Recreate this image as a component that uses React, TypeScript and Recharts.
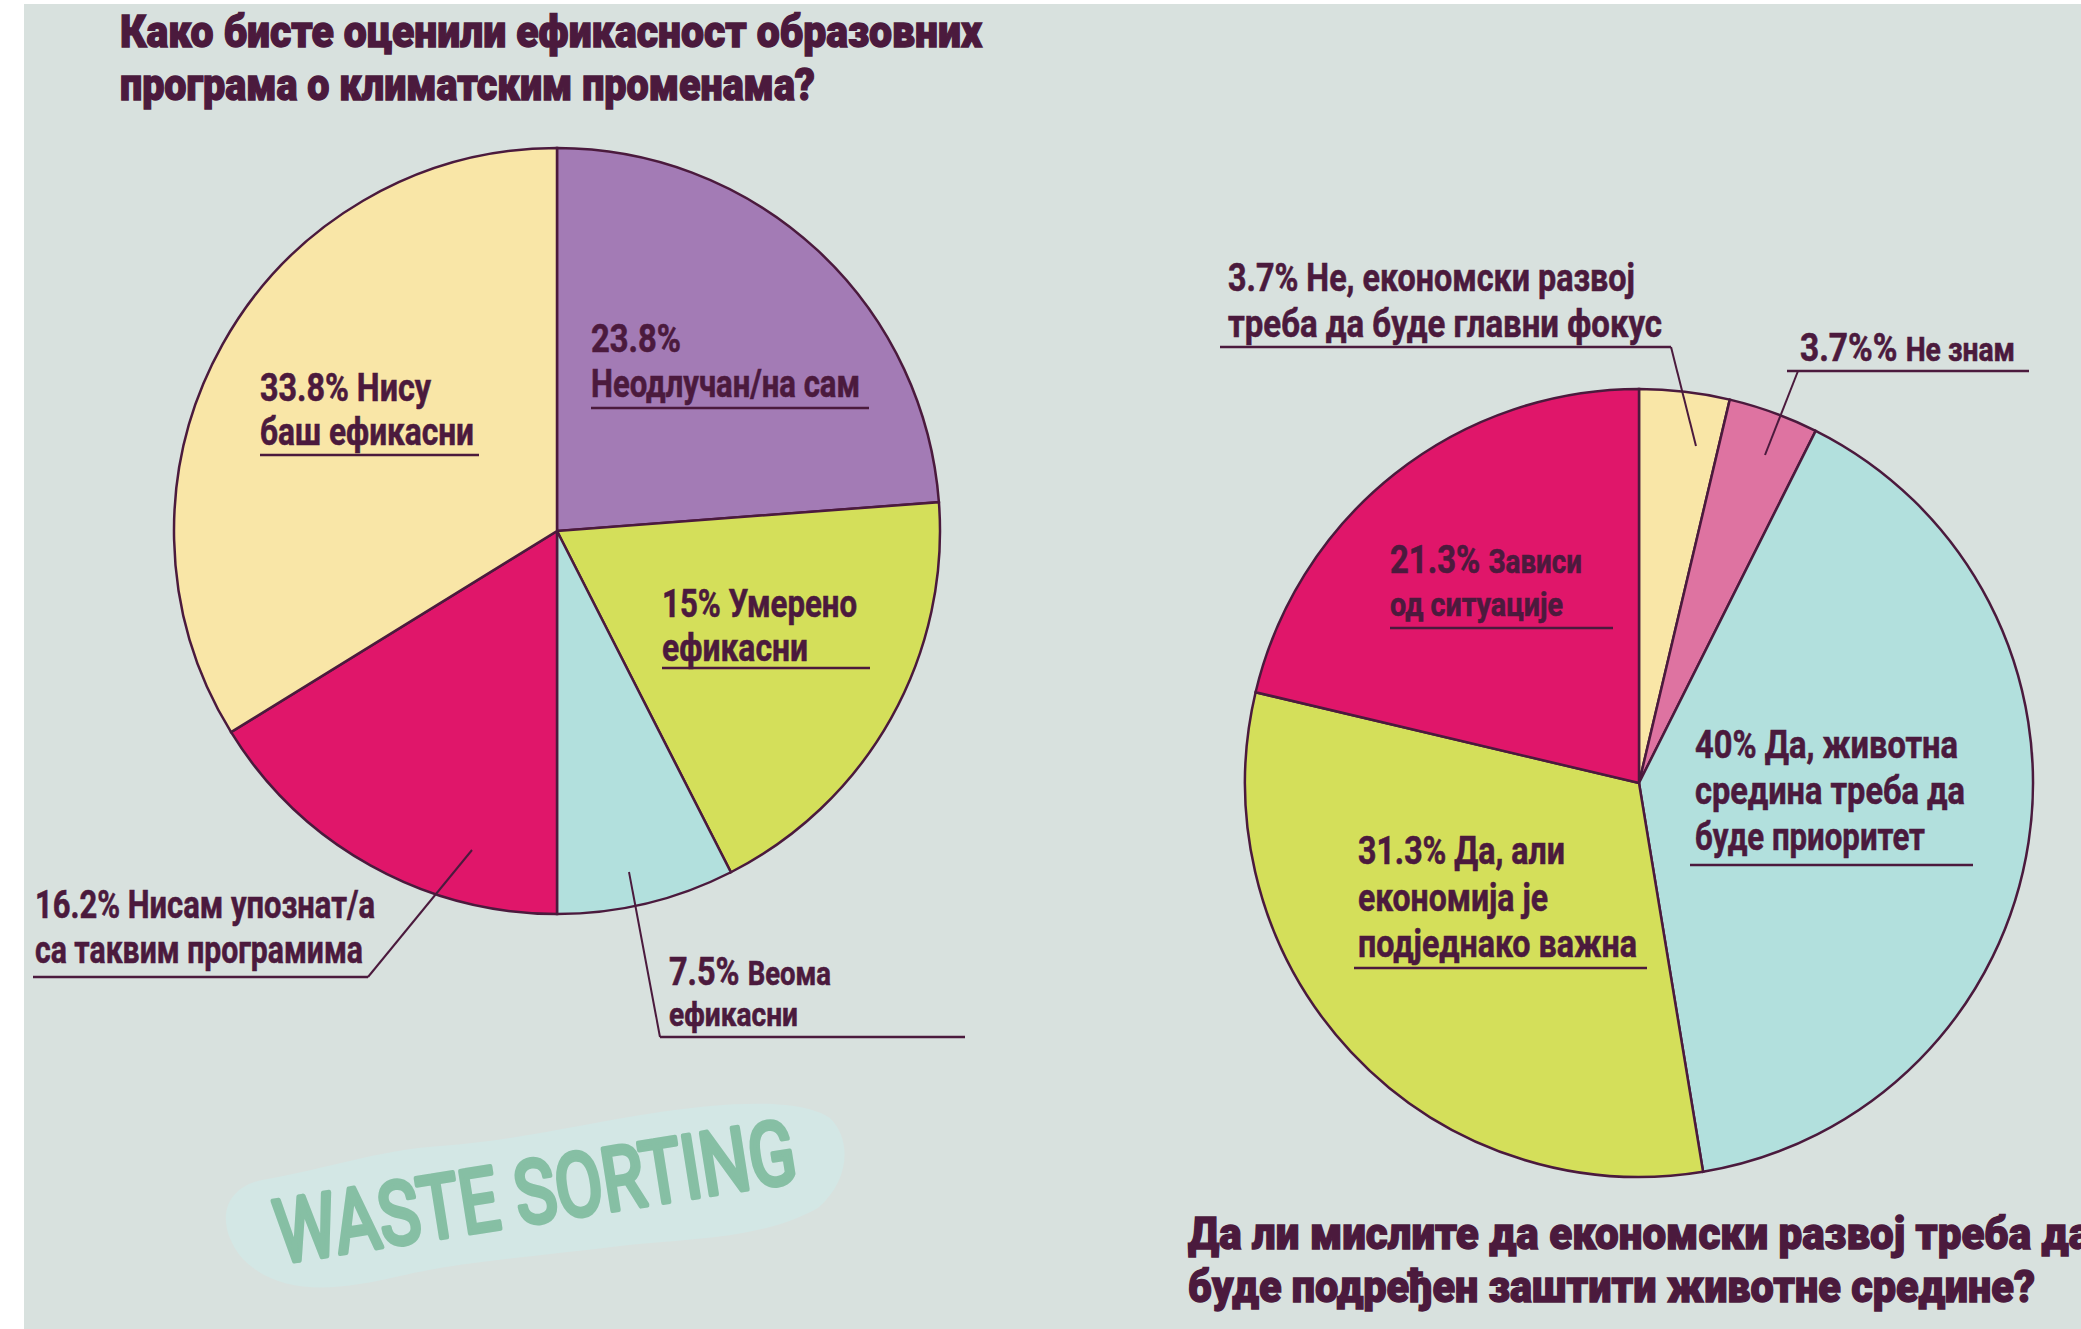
import { PieChart, Pie, Cell } from "recharts";

const INK = "#4b1a3d";
const FONT = "Roboto, 'Noto Sans', sans-serif";

// left pie: "Како бисте оценили ефикасност образовних програма..."
const efficacyNames = [
  "Неодлучан/на сам",
  "Умерено ефикасни",
  "Веома ефикасни",
  "Нисам упознат/а са таквим програмима",
  "Нису баш ефикасни",
];
// slice sizes as drawn (the "15%" slice spans ~18.7% of the circle)
const efficacyValues = [23.8, 18.7, 7.5, 16.2, 33.8];
const efficacyColors = ["#a37bb5", "#d4df5a", "#b2e0dd", "#e0166a", "#f9e6a7"];

// right pie: "Да ли мислите да економски развој..."
const economyNames = [
  "Не, економски развој треба да буде главни фокус",
  "Не знам",
  "Да, животна средина треба да буде приоритет",
  "Да, али економија је подједнако важна",
  "Зависи од ситуације",
];
const economyValues = [3.7, 3.7, 40, 31.3, 21.3];
const economyColors = ["#f9e6a7", "#de73a1", "#b2e0dd", "#d4df5a", "#e0166a"];

const leftTitle = ["Како бисте оценили ефикасност образовних", "програма о климатским променама?"];
const rightTitle = ["Да ли мислите да економски развој треба да", "буде подређен заштити животне средине?"];

const efficacyData = efficacyNames.map((name, i) => ({ name, value: efficacyValues[i] }));
const economyData = economyNames.map((name, i) => ({ name, value: economyValues[i] }));

type Part = { t: string; small?: boolean };
type Line = { parts: Part[]; w: number };

const BIG = 39;
const SMALL = 33;

function Label({
  x,
  y,
  gap = 45,
  lines,
  under,
  leader,
}: {
  x: number;
  y: number;
  gap?: number;
  lines: Line[];
  under: [number, number, number];
  leader?: [number, number, number, number];
}) {
  return (
    <g>
      {lines.map((ln, i) => (
        <text
          key={i}
          x={x}
          y={y + i * gap}
          fontSize={BIG}
          fontWeight={700}
          fill={INK}
          stroke={INK}
          strokeWidth={0.6}
          textLength={ln.w}
          lengthAdjust="spacingAndGlyphs"
        >
          {ln.parts.map((p, j) => (
            <tspan key={j} fontSize={p.small ? SMALL : BIG}>
              {p.t}
            </tspan>
          ))}
        </text>
      ))}
      <line x1={under[0]} x2={under[1]} y1={under[2]} y2={under[2]} stroke={INK} strokeWidth={2.5} />
      {leader && (
        <line x1={leader[0]} y1={leader[1]} x2={leader[2]} y2={leader[3]} stroke={INK} strokeWidth={2} />
      )}
    </g>
  );
}

export default function App() {
  return (
    <div style={{ position: "relative", width: 2081, height: 1329, background: "#fff", overflow: "hidden", fontFamily: FONT }}>
      <style>{"body{margin:0}"}</style>
      <div style={{ position: "absolute", left: 24, top: 4, right: 0, bottom: 0, background: "#d8e1de" }} />

      <svg width={2081} height={1329} style={{ position: "absolute", left: 0, top: 0 }}>
        <path
          d="M242 1258 C215 1225 222 1188 262 1180 C330 1168 380 1150 440 1146 C520 1140 580 1124 660 1112 C730 1102 800 1098 830 1118 C852 1140 850 1180 818 1208 C760 1240 690 1238 620 1246 C540 1256 460 1262 400 1276 C340 1290 280 1298 242 1258 Z"
          fill="#d3e7e5"
        />
        <text
          x={540}
          y={1222}
          transform="rotate(-9 540 1222)"
          textAnchor="middle"
          fontSize={88}
          fontWeight={400}
          fill="#86bfa4"
          stroke="#86bfa4"
          strokeWidth={5}
          strokeLinejoin="round"
          strokeLinecap="round"
          textLength={526}
          lengthAdjust="spacingAndGlyphs"
        >
          WASTE SORTING
        </text>
      </svg>

      <div style={{ position: "absolute", left: 0, top: 0 }}>
        <PieChart width={2081} height={1329} margin={{ top: 0, right: 0, bottom: 0, left: 0 }}>
          <Pie
            data={efficacyData}
            dataKey="value"
            nameKey="name"
            cx={557}
            cy={531}
            outerRadius={383}
            startAngle={90}
            endAngle={-270}
            stroke={INK}
            strokeWidth={2.5}
            isAnimationActive={false}
          >
            {efficacyData.map((_, i) => (
              <Cell key={`e-${i}`} fill={efficacyColors[i]} stroke={INK} strokeWidth={2.5} />
            ))}
          </Pie>
          <Pie
            data={economyData}
            dataKey="value"
            nameKey="name"
            cx={1639}
            cy={783}
            outerRadius={394}
            startAngle={90}
            endAngle={-270}
            stroke={INK}
            strokeWidth={2.5}
            isAnimationActive={false}
          >
            {economyData.map((_, i) => (
              <Cell key={`c-${i}`} fill={economyColors[i]} stroke={INK} strokeWidth={2.5} />
            ))}
          </Pie>
        </PieChart>
      </div>

      <svg width={2081} height={1329} style={{ position: "absolute", left: 0, top: 0, fontFamily: FONT }}>
        {/* titles */}
        <g fill={INK} stroke={INK} strokeWidth={1.4} fontWeight={900} fontSize={45}>
          <text x={120} y={47} textLength={862} lengthAdjust="spacingAndGlyphs">{leftTitle[0]}</text>
          <text x={120} y={100} textLength={695} lengthAdjust="spacingAndGlyphs">{leftTitle[1]}</text>
          <text x={1188} y={1249} textLength={903} lengthAdjust="spacingAndGlyphs">{rightTitle[0]}</text>
          <text x={1188} y={1302} textLength={847} lengthAdjust="spacingAndGlyphs">{rightTitle[1]}</text>
        </g>

        {/* left pie labels */}
        <Label
          x={591}
          y={352}
          lines={[
            { parts: [{ t: `${efficacyValues[0]}%` }], w: 90 },
            { parts: [{ t: efficacyNames[0] }], w: 269 },
          ]}
          under={[591, 869, 408]}
        />
        <Label
          x={260}
          y={401}
          gap={44}
          lines={[
            { parts: [{ t: `${efficacyValues[4]}% Нису` }], w: 171 },
            { parts: [{ t: "баш ефикасни" }], w: 214 },
          ]}
          under={[260, 479, 455]}
        />
        <Label
          x={662}
          y={617}
          gap={44}
          lines={[
            { parts: [{ t: "15% Умерено" }], w: 195 },
            { parts: [{ t: "ефикасни" }], w: 146 },
          ]}
          under={[662, 870, 668]}
        />
        <Label
          x={35}
          y={918}
          lines={[
            { parts: [{ t: `${efficacyValues[3]}% Нисам упознат/а` }], w: 340 },
            { parts: [{ t: "са таквим програмима" }], w: 328 },
          ]}
          under={[33, 368, 977]}
          leader={[368, 977, 472, 850]}
        />
        <Label
          x={669}
          y={985}
          gap={41}
          lines={[
            { parts: [{ t: `${efficacyValues[2]}% ` }, { t: "Веома", small: true }], w: 162 },
            { parts: [{ t: "ефикасни", small: true }], w: 129 },
          ]}
          under={[660, 965, 1037]}
          leader={[660, 1037, 629, 872]}
        />

        {/* right pie labels */}
        <Label
          x={1228}
          y={291}
          gap={46}
          lines={[
            { parts: [{ t: `${economyValues[0]}% Не, економски развој` }], w: 407 },
            { parts: [{ t: "треба да буде главни фокус" }], w: 434 },
          ]}
          under={[1220, 1671, 347]}
          leader={[1671, 347, 1696, 446]}
        />
        <Label
          x={1800}
          y={361}
          lines={[{ parts: [{ t: `${economyValues[1]}%% ` }, { t: economyNames[1], small: true }], w: 215 }]}
          under={[1787, 2029, 371]}
          leader={[1798, 371, 1765, 455]}
        />
        <Label
          x={1390}
          y={573}
          gap={43}
          lines={[
            { parts: [{ t: `${economyValues[4]}% ` }, { t: "Зависи", small: true }], w: 192 },
            { parts: [{ t: "од ситуације", small: true }], w: 173 },
          ]}
          under={[1390, 1613, 628]}
        />
        <Label
          x={1695}
          y={758}
          gap={46}
          lines={[
            { parts: [{ t: `${economyValues[2]}% Да, животна` }], w: 263 },
            { parts: [{ t: "средина треба да" }], w: 270 },
            { parts: [{ t: "буде приоритет" }], w: 230 },
          ]}
          under={[1690, 1973, 865]}
        />
        <Label
          x={1358}
          y={864}
          gap={46.5}
          lines={[
            { parts: [{ t: `${economyValues[3]}% Да, али` }], w: 207 },
            { parts: [{ t: "економија је" }], w: 190 },
            { parts: [{ t: "подједнако важна" }], w: 279 },
          ]}
          under={[1354, 1647, 968]}
        />
      </svg>
    </div>
  );
}
